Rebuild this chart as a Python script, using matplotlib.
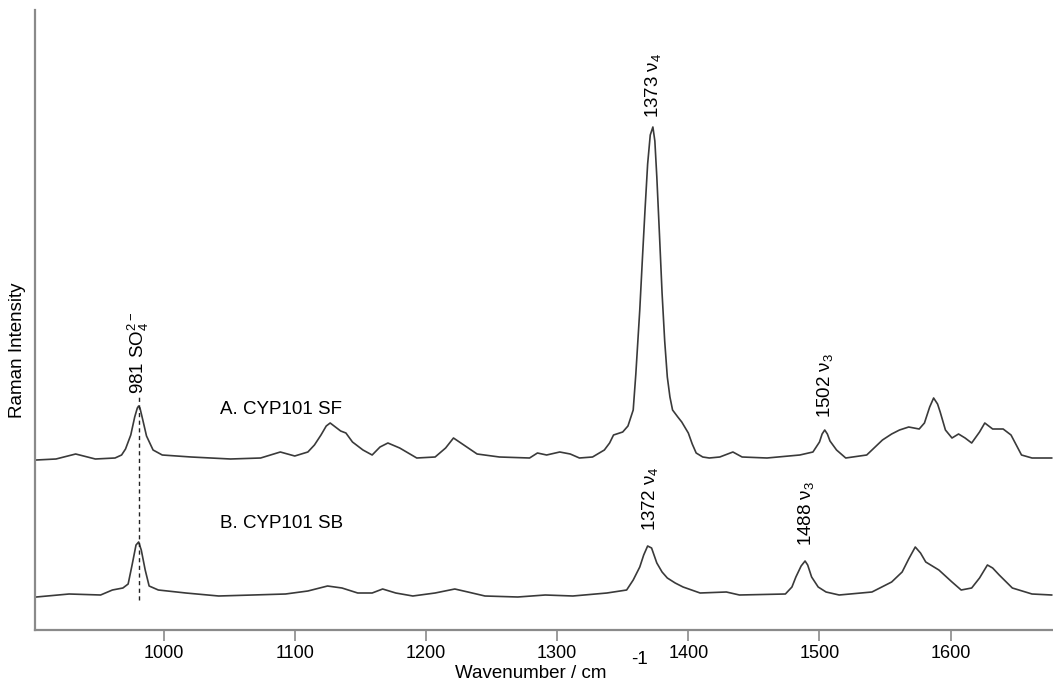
import matplotlib
matplotlib.use('Agg')
import matplotlib.pyplot as plt
import numpy as np

plt.rcParams['font.family'] = ['Liberation Sans', 'DejaVu Sans']
plt.rcParams['mathtext.fontset'] = 'custom'
plt.rcParams['mathtext.rm'] = 'Liberation Sans'
plt.rcParams['mathtext.it'] = 'Liberation Sans'

# Spettro A: CYP101 SF (numero d'onda, intensita' relativa)
wn_a = [903, 918, 933, 948, 963, 968, 971, 975, 978, 980, 981, 982, 984, 987,
        992, 999, 1021, 1051, 1074, 1089, 1100, 1110, 1115, 1120, 1124, 1127,
        1131, 1135, 1139, 1144, 1152, 1159, 1165, 1171, 1180, 1193, 1207, 1215,
        1221, 1230, 1239, 1256, 1279, 1285, 1292, 1302, 1310, 1317, 1327, 1336,
        1340, 1343, 1350, 1354, 1358, 1360, 1363, 1365, 1367, 1369, 1371, 1373,
        1374.5, 1376, 1378, 1380, 1382, 1384, 1386, 1388, 1392, 1395, 1400,
        1403, 1406, 1411, 1416, 1424, 1434, 1441, 1460, 1485, 1495, 1500, 1502,
        1504, 1506, 1508, 1513, 1520, 1536, 1548, 1555, 1561, 1568, 1576, 1580,
        1584, 1587, 1590, 1592, 1596, 1601, 1606, 1611, 1616, 1622, 1626, 1632,
        1640, 1646, 1650, 1654, 1662, 1677]
int_a = [-1, 0, 5, 0, 1, 4, 10, 24, 42, 51, 53, 51, 40, 23,
         9, 4, 2, 0, 1, 7, 3, 7, 14, 24, 33, 36,
         32, 28, 26, 17, 9, 4, 12, 16, 11, 1, 2, 11,
         21, 13, 5, 2, 1, 6, 4, 7, 5, 1, 2, 9,
         16, 24, 27, 33, 49, 85, 149, 200, 249, 295, 324, 332,
         318, 282, 225, 166, 118, 82, 62, 49, 42, 37, 26,
         15, 6, 2, 1, 2, 7, 2, 1, 4, 7, 17, 25,
         29, 25, 18, 9, 1, 4, 19, 25, 29, 32, 30, 36,
         52, 61, 55, 47, 29, 21, 25, 21, 16, 27, 36, 30,
         30, 24, 14, 4, 1, 1]

# Spettro B: CYP101 SB
wn_b = [903, 928, 952, 961, 969, 973, 976, 979, 981, 983, 986, 989, 996, 1017,
        1042, 1068, 1093, 1110, 1125, 1136, 1148, 1159, 1167, 1177, 1190, 1207,
        1222, 1232, 1245, 1270, 1291, 1312, 1338, 1353, 1358, 1363, 1366, 1369,
        1372, 1376, 1380, 1384, 1390, 1396, 1409, 1429, 1439, 1474, 1479, 1482,
        1486, 1489, 1491, 1494, 1499, 1505, 1515, 1540, 1555, 1563, 1568, 1573,
        1577, 1581, 1591, 1601, 1608, 1616, 1622, 1628, 1632, 1637, 1647, 1662,
        1677]
int_b = [-1, 2, 1, 6, 8, 12, 31, 51, 54, 46, 26, 10, 6, 3,
         0, 1, 2, 5, 10, 8, 3, 3, 7, 3, 0, 3,
         7, 4, 0, -1, 1, 0, 3, 6, 16, 29, 41, 50,
         48, 33, 24, 18, 13, 9, 3, 4, 1, 2, 9, 19,
         30, 35, 31, 19, 9, 4, 1, 4, 14, 24, 37, 49,
         43, 34, 26, 14, 6, 8, 18, 31, 28, 21, 8, 2,
         1]

offset_a = 171
offset_b = 34

fig = plt.figure(figsize=(10.53, 6.84), dpi=100)
ax = fig.add_axes([35 / 1053, 54 / 684, 1 - 35 / 1053, 620 / 684])

ax.plot(wn_a, np.array(int_a) + offset_a, color='#3a3a3a', lw=1.2)
ax.plot(wn_b, np.array(int_b) + offset_b, color='#3a3a3a', lw=1.2)

# linea tratteggiata del solfato
ax.plot([981, 981], [30, 233], color='#222222', lw=1, ls=(0, (3, 2.5)))

ax.set_xlim(902, 1678)
ax.set_ylim(0, 620)
ax.set_xticks([1000, 1100, 1200, 1300, 1400, 1500, 1600])
ax.set_yticks([])
for s in ['top', 'right']:
    ax.spines[s].set_visible(False)
for s in ['left', 'bottom']:
    ax.spines[s].set_color('#8a8a8a')
    ax.spines[s].set_linewidth(1.6)
ax.tick_params(axis='x', direction='out', length=8, width=1.2,
               color='#8a8a8a', labelsize=13, pad=3)

# etichette assi
fig.text(18 / 1053, 1 - 350 / 684, 'Raman Intensity', rotation=90,
         ha='center', va='center', fontsize=13.5)
fig.text(531 / 1053, 1 - 674 / 684, 'Wavenumber / cm', ha='center',
         va='center', fontsize=13.5)
fig.text(640 / 1053, 1 - 660 / 684, '-1', ha='center', va='center', fontsize=13.5)

# etichette dei picchi
ann = dict(rotation=90, ha='center', va='bottom', fontsize=13.5)
ax.text(981, 236, '981 SO$_4^{2-}$', **ann)
ax.text(1373, 512, '1373 $\\nu_4$', **ann)
ax.text(1504, 212, '1502 $\\nu_3$', **ann)
ax.text(1371, 99, '1372 $\\nu_4$', **ann)
ax.text(1490, 84, '1488 $\\nu_3$', **ann)

ax.text(1043, 221, 'A. CYP101 SF', ha='left', va='center', fontsize=13.5)
ax.text(1043, 107, 'B. CYP101 SB', ha='left', va='center', fontsize=13.5)

fig.savefig('out.png', dpi=100)
